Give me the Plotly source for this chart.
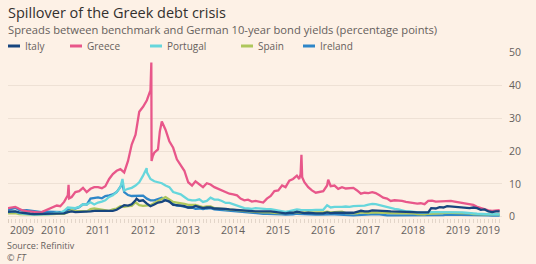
import pandas as pd
import plotly.graph_objects as go

# ---------------- data (monthly, first of month, Jan 2009 - Dec 2019) ----------------
months = pd.date_range("2009-01-01", "2019-12-01", freq="MS")

italy = [
    1.5, 1.5, 1.6, 1.3, 1.1, 1.0, 0.9, 0.8, 0.8, 0.8, 0.8, 0.8,   # 2009
    0.9, 0.9, 0.9, 1.0, 1.4, 1.6, 1.4, 1.4, 1.5, 1.4, 1.6, 1.8,   # 2010
    1.8, 1.6, 1.6, 1.6, 1.8, 2.1, 2.7, 3.5, 3.4, 3.8, 5.0, 4.8,   # 2011
    5.0, 4.0, 3.2, 3.7, 4.3, 4.5, 5.0, 4.6, 3.6, 3.5, 3.4, 3.2,   # 2012
    2.8, 2.8, 3.3, 3.0, 2.6, 2.8, 2.8, 2.5, 2.5, 2.4, 2.4, 2.2,   # 2013
    2.1, 2.0, 1.9, 1.7, 1.6, 1.6, 1.6, 1.6, 1.5, 1.6, 1.6, 1.4,   # 2014
    1.3, 1.2, 1.0, 1.2, 1.2, 1.5, 1.3, 1.1, 1.2, 1.0, 1.0, 1.0,   # 2015
    1.0, 1.3, 1.1, 1.2, 1.2, 1.3, 1.2, 1.1, 1.2, 1.5, 1.8, 1.6,   # 2016
    1.6, 1.9, 1.9, 1.9, 1.7, 1.7, 1.6, 1.6, 1.6, 1.5, 1.4, 1.5,   # 2017
    1.4, 1.3, 1.3, 1.2, 1.3, 2.6, 2.5, 2.9, 2.8, 3.2, 3.1, 2.8,   # 2018
    2.7, 2.8, 2.6, 2.6, 2.8, 2.6, 2.1, 2.2, 1.6, 1.4, 1.6, 1.6,   # 2019
]
greece = [
    2.6, 2.9, 3.0, 2.4, 1.9, 1.7, 1.5, 1.4, 1.3, 1.4, 1.9, 2.4,   # 2009
    2.8, 3.4, 3.2, 4.5, 6.5, 6.0, 7.5, 7.8, 8.8, 7.5, 8.5, 9.0,   # 2010
    9.0, 8.7, 9.3, 11.5, 13.0, 14.0, 14.5, 13.5, 17.0, 22.0, 25.0, 32.0,  # 2011
    33.5, 35.5, 38.5, 19.5, 20.5, 29.0, 26.5, 23.0, 21.0, 17.5, 15.5, 14.0,  # 2012
    10.5, 9.5, 10.8, 10.0, 9.0, 10.2, 9.8, 9.0, 8.5, 8.0, 7.3, 7.0,  # 2013
    6.8, 6.5, 5.5, 5.0, 5.2, 4.6, 4.8, 4.5, 4.3, 5.5, 6.3, 7.8,   # 2014
    8.0, 9.5, 9.0, 11.0, 11.5, 12.5, 13.0, 10.5, 9.0, 8.0, 7.3, 7.5,  # 2015
    7.8, 9.5, 9.3, 9.5, 8.5, 9.0, 8.6, 8.8, 8.8, 8.0, 7.0, 7.3,   # 2016
    7.2, 7.5, 7.2, 6.5, 5.8, 5.5, 4.8, 5.0, 5.0, 4.8, 4.5, 4.3,   # 2017
    4.2, 4.0, 4.1, 3.8, 4.8, 4.9, 4.6, 4.7, 4.8, 4.7, 4.8, 4.6,   # 2018
    4.4, 4.2, 4.0, 3.8, 3.6, 3.0, 2.6, 2.2, 1.9, 1.8, 2.0, 2.0,   # 2019
]
portugal = [
    1.4, 1.5, 1.6, 1.1, 0.9, 0.8, 0.7, 0.6, 0.6, 0.6, 0.7, 0.8,   # 2009
    1.0, 1.3, 1.1, 1.8, 2.8, 2.7, 2.6, 3.0, 3.8, 3.7, 4.4, 3.7,   # 2010
    4.3, 4.6, 5.0, 6.0, 6.5, 7.5, 9.0, 8.0, 8.5, 8.8, 9.5, 10.5,  # 2011
    12.5, 13.5, 11.5, 10.8, 10.5, 10.2, 9.5, 9.0, 7.5, 7.2, 6.8, 6.0,  # 2012
    5.2, 5.0, 5.0, 5.3, 4.5, 4.8, 5.8, 5.2, 5.2, 4.8, 4.2, 4.2,   # 2013
    3.8, 3.3, 2.9, 2.6, 2.5, 2.4, 2.6, 2.5, 2.2, 2.3, 2.3, 2.1,   # 2014
    2.1, 1.9, 1.5, 1.7, 1.9, 2.2, 2.1, 2.0, 1.9, 2.0, 2.1, 2.0,   # 2015
    2.1, 3.5, 2.8, 3.0, 2.9, 3.0, 3.1, 3.0, 3.2, 3.2, 3.3, 3.4,   # 2016
    3.7, 3.9, 3.8, 3.5, 3.1, 2.8, 2.5, 2.4, 2.2, 1.9, 1.6, 1.6,   # 2017
    1.4, 1.4, 1.2, 1.2, 1.4, 1.4, 1.4, 1.4, 1.5, 1.5, 1.5, 1.4,   # 2018
    1.4, 1.3, 1.2, 1.0, 1.0, 0.9, 0.8, 0.8, 0.8, 0.7, 0.8, 0.7,   # 2019
]
spain = [
    1.0, 1.1, 1.1, 0.8, 0.7, 0.6, 0.6, 0.6, 0.6, 0.6, 0.7, 0.7,   # 2009
    0.8, 0.9, 0.8, 0.9, 1.4, 2.0, 1.7, 1.8, 1.7, 1.6, 2.3, 2.5,   # 2010
    2.3, 2.1, 2.0, 1.8, 2.2, 2.5, 3.2, 3.0, 3.2, 3.3, 4.4, 3.5,   # 2011
    3.3, 3.3, 3.5, 4.2, 4.9, 5.4, 6.0, 5.3, 4.5, 4.3, 4.2, 3.9,   # 2012
    3.6, 3.6, 3.6, 3.2, 2.9, 3.1, 3.1, 2.6, 2.5, 2.4, 2.3, 2.2,   # 2013
    2.1, 1.9, 1.8, 1.6, 1.5, 1.5, 1.5, 1.4, 1.3, 1.4, 1.4, 1.2,   # 2014
    1.1, 1.1, 1.0, 1.1, 1.2, 1.4, 1.2, 1.3, 1.3, 1.2, 1.2, 1.2,   # 2015
    1.3, 1.5, 1.3, 1.4, 1.4, 1.5, 1.1, 1.0, 1.0, 1.0, 1.3, 1.2,   # 2016
    1.1, 1.3, 1.3, 1.4, 1.2, 1.2, 1.1, 1.1, 1.2, 1.2, 1.1, 1.2,   # 2017
    1.0, 0.8, 0.7, 0.7, 0.9, 1.0, 0.9, 1.0, 1.1, 1.2, 1.2, 1.2,   # 2018
    1.1, 1.1, 1.1, 1.0, 0.8, 0.7, 0.7, 0.7, 0.7, 0.6, 0.7, 0.7,   # 2019
]
ireland = [
    2.1, 2.4, 2.7, 2.1, 1.9, 2.0, 1.8, 1.6, 1.5, 1.4, 1.5, 1.5,   # 2009
    1.5, 1.5, 1.3, 1.4, 2.0, 2.6, 2.5, 2.9, 3.8, 3.7, 5.5, 5.8,   # 2010
    5.9, 5.6, 6.3, 6.5, 6.8, 7.5, 8.9, 7.5, 6.6, 6.3, 6.4, 6.5,   # 2011
    6.4, 5.5, 5.0, 5.0, 5.5, 5.8, 5.0, 4.7, 3.9, 3.4, 3.3, 3.0,   # 2012
    2.8, 2.8, 2.4, 2.5, 2.3, 2.5, 2.6, 2.2, 2.1, 1.8, 1.7, 1.7,   # 2013
    1.6, 1.4, 1.3, 1.2, 1.2, 1.1, 1.1, 1.0, 0.9, 0.9, 0.9, 0.8,   # 2014
    0.8, 0.7, 0.6, 0.6, 0.7, 0.9, 0.8, 0.7, 0.7, 0.6, 0.6, 0.6,   # 2015
    0.7, 0.8, 0.7, 0.7, 0.6, 0.7, 0.5, 0.4, 0.4, 0.5, 0.6, 0.6,   # 2016
    0.7, 0.8, 0.8, 0.7, 0.5, 0.4, 0.4, 0.4, 0.4, 0.3, 0.3, 0.3,   # 2017
    0.4, 0.3, 0.3, 0.4, 0.4, 0.5, 0.5, 0.5, 0.5, 0.6, 0.6, 0.6,   # 2018
    0.5, 0.4, 0.4, 0.4, 0.4, 0.4, 0.4, 0.4, 0.4, 0.3, 0.3, 0.3,   # 2019
]

# short-lived spikes between month starts
greece_extra_dates = ["2010-05-07", "2010-05-12", "2012-02-20", "2012-03-08", "2012-03-10",
                      "2012-03-20", "2012-05-16", "2015-06-20", "2015-07-08", "2015-07-14",
                      "2016-02-10"]
greece_extra_vals = [9.7, 5.6, 37.5, 47.0, 17.0, 18.5, 26.0, 11.5, 18.9, 12.0, 11.3]
portugal_extra_dates = ["2011-07-18", "2012-01-30"]
portugal_extra_vals = [11.5, 14.8]
ireland_extra_dates = ["2011-07-18"]
ireland_extra_vals = [10.0]
italy_extra_dates = ["2011-11-09", "2018-05-25"]
italy_extra_vals = [5.5, 2.6]

series_names = ["Italy", "Greece", "Portugal", "Spain", "Ireland"]
series_colors = ["#17457E", "#E8578A", "#66D6DC", "#AEC75C", "#2E86C8"]

x_tick_dates = ["2009-01-01", "2010-01-01", "2011-01-01", "2012-01-01", "2013-01-01", "2014-01-01",
                "2015-01-01", "2016-01-01", "2017-01-01", "2018-01-01", "2019-01-01", "2019-12-20"]
x_tick_labels = ["2009", "2010", "2011", "2012", "2013", "2014",
                 "2015", "2016", "2017", "2018", "2019", "2019"]
y_ticks = [0, 10, 20, 30, 40, 50]


def build(vals, ex_d, ex_v):
    df = pd.DataFrame({"d": list(months) + list(pd.to_datetime(ex_d)), "v": list(vals) + list(ex_v)})
    return df.sort_values("d")


data = {
    "Italy": build(italy, italy_extra_dates, italy_extra_vals),
    "Greece": build(greece, greece_extra_dates, greece_extra_vals),
    "Portugal": build(portugal, portugal_extra_dates, portugal_extra_vals),
    "Spain": build(spain, [], []),
    "Ireland": build(ireland, ireland_extra_dates, ireland_extra_vals),
}

# ---------------- figure ----------------
W, H = 536, 264
L, R, T, B = 8, 34, 52, 46
PW, PH = W - L - R, H - T - B
BG = "#FDF1E6"
GRID = "#EEE1D5"
TXT = "#66605C"
FONT = "Open Sans"


def px(xp):
    return (xp - L) / PW


def py(yp):
    return (H - B - yp) / PH


fig = go.Figure()
draw_order = ["Ireland", "Spain", "Portugal", "Greece", "Italy"]
for name in draw_order:
    c = series_colors[series_names.index(name)]
    df = data[name]
    fig.add_trace(go.Scatter(x=df["d"], y=df["v"], mode="lines", name=name,
                             line=dict(color=c, width=2.3), showlegend=False,
                             hoverinfo="skip"))

annotations = []
# x tick labels
for i, (d, lab) in enumerate(zip(x_tick_dates, x_tick_labels)):
    anchor = "left" if i == 0 else ("right" if i == len(x_tick_dates) - 1 else "center")
    annotations.append(dict(x=d, y=0, xref="x", yref="paper", text=lab, showarrow=False,
                            xanchor=anchor, yanchor="middle", yshift=-12,
                            font=dict(family=FONT, size=10.5, color=TXT)))

# titles
annotations.append(dict(x=px(6), y=py(13), xref="paper", yref="paper", xanchor="left", yanchor="middle",
                        text="Spillover of the Greek debt crisis", showarrow=False,
                        font=dict(family=FONT, size=14.5, color="#33302E")))
annotations.append(dict(x=px(6), y=py(30), xref="paper", yref="paper", xanchor="left", yanchor="middle",
                        text="Spreads between benchmark and German 10-year bond yields (percentage points)",
                        showarrow=False, font=dict(family=FONT, size=11.2, color=TXT)))
annotations.append(dict(x=px(6), y=py(251.5), xref="paper", yref="paper", xanchor="left", yanchor="middle",
                        text="Source: Refinitiv<br><i>© FT</i>", showarrow=False, align="left",
                        borderpad=0, font=dict(family=FONT, size=9, color=TXT)))

# custom legend
legend_x = [8, 70, 150, 241, 303]
shapes = []
for xs, name, c in zip(legend_x, series_names, series_colors):
    shapes.append(dict(type="line", xref="paper", yref="paper", x0=px(xs), x1=px(xs + 12),
                       y0=py(46), y1=py(46), line=dict(color=c, width=3)))
    annotations.append(dict(x=px(xs + 15), y=py(46), xref="paper", yref="paper", xanchor="left",
                            yanchor="middle", text=name, showarrow=False,
                            font=dict(family=FONT, size=10, color=TXT)))

fig.update_layout(
    width=W, height=H,
    margin=dict(l=L, r=R, t=T, b=B),
    paper_bgcolor=BG, plot_bgcolor=BG,
    showlegend=False,
    annotations=annotations,
    shapes=shapes,
    xaxis=dict(type="date", range=["2009-01-01", "2019-12-20"], showgrid=False, zeroline=False,
               showticklabels=False, ticks="outside", ticklen=4, tickcolor="#DCCDBF",
               tick0="2009-01-01", dtick="M12",
               minor=dict(ticks="outside", ticklen=4, tickcolor="#E3D6CA", dtick="M1",
                          showgrid=False)),
    yaxis=dict(side="right", range=[-0.4, 50.2], tickvals=y_ticks, gridcolor=GRID, gridwidth=1,
               zeroline=False, showline=False, ticks="", ticklabelstandoff=6,
               tickfont=dict(family=FONT, size=10.5, color=TXT)),
)

fig.write_html("out.html", config={"displayModeBar": False},
               post_script="document.body.style.margin='0';document.body.style.background='" + BG + "';")
